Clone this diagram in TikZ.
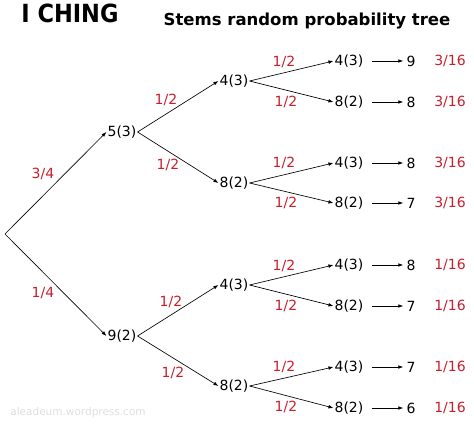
\documentclass[tikz,border=0pt]{standalone}
\usepackage{fontspec}
\setmainfont{DejaVu Sans}
\newfontfamily\chingfont{DejaVu Sans Condensed}
\usetikzlibrary{arrows.meta}
\definecolor{probred}{RGB}{200,30,45}
\definecolor{wmgray}{RGB}{222,222,222}
\begin{document}
\begin{tikzpicture}[x=1pt,y=1pt,
  stem/.style={font=\fontsize{14}{16}\selectfont, inner sep=1pt},
  prob/.style={font=\fontsize{14}{16}\selectfont, text=probred, inner sep=0pt},
  arr/.style={line width=0.65pt, -{Latex[length=5pt,width=3.6pt]}},
  resarr/.style={arr, shorten <=7pt, shorten >=2pt}]
\useasboundingbox (0,0) rectangle (474,-425);
% titles
\node[font=\chingfont\bfseries\fontsize{25}{27}\selectfont] (ching) at (70,-13) {I CHING};
\node[font=\bfseries\fontsize{16.5}{18}\selectfont] (title) at (307,-21) {Stems random probability tree};
\node[font=\fontsize{10.5}{12}\selectfont, text=wmgray] (wm) at (78,-413) {aleadeum.wordpress.com};
% root
\coordinate (r) at (5,-234);
% level 1
\node[stem] (a) at (122,-132) {5(3)};
\node[stem] (b) at (122,-336) {9(2)};
% level 2
\node[stem] (aa) at (234,-81) {4(3)};
\node[stem] (ab) at (234,-183) {8(2)};
\node[stem] (ba) at (234,-285) {4(3)};
\node[stem] (bb) at (234,-386) {8(2)};
% level 3
\node[stem] (aaa) at (349,-61) {4(3)};
\node[stem] (aab) at (349,-102) {8(2)};
\node[stem] (aba) at (349,-163) {4(3)};
\node[stem] (abb) at (349,-203) {8(2)};
\node[stem] (baa) at (349,-265) {4(3)};
\node[stem] (bab) at (349,-306) {8(2)};
\node[stem] (bba) at (349,-367) {4(3)};
\node[stem] (bbb) at (349,-408) {8(2)};
% results
\node[stem] (raaa) at (411,-61) {9};
\node[stem] (raab) at (411,-102) {8};
\node[stem] (raba) at (411,-163) {8};
\node[stem] (rabb) at (411,-203) {7};
\node[stem] (rbaa) at (411,-265) {8};
\node[stem] (rbab) at (411,-306) {7};
\node[stem] (rbba) at (411,-367) {7};
\node[stem] (rbbb) at (411,-408) {6};
% final probabilities
\node[prob] (paaa) at (450,-61) {3/16};
\node[prob] (paab) at (450,-102) {3/16};
\node[prob] (paba) at (450,-163) {3/16};
\node[prob] (pabb) at (450,-203) {3/16};
\node[prob] (pbaa) at (450,-265) {1/16};
\node[prob] (pbab) at (450,-306) {1/16};
\node[prob] (pbba) at (450,-367) {1/16};
\node[prob] (pbbb) at (450,-408) {1/16};
% edges
\draw[arr] (r) -- (a.west);
\draw[arr] (r) -- (b.west);
\foreach \p/\c in {a/aa,a/ab,b/ba,b/bb,aa/aaa,aa/aab,ab/aba,ab/abb,ba/baa,ba/bab,bb/bba,bb/bbb}
  \draw[arr] (\p.east) -- (\c.west);
\foreach \c in {aaa,aab,aba,abb,baa,bab,bba,bbb}
  \draw[resarr] (\c.east) -- (r\c.west);
% edge labels
\node[prob] (l1) at (43,-174) {3/4};
\node[prob] (l2) at (43,-293) {1/4};
\node[prob] (l3) at (166,-100) {1/2};
\node[prob] (l4) at (168,-165) {1/2};
\node[prob] (l5) at (171,-302) {1/2};
\node[prob] (l6) at (173,-373) {1/2};
\node[prob] (l7) at (284,-62) {1/2};
\node[prob] (l8) at (286,-102) {1/2};
\node[prob] (l9) at (284,-163) {1/2};
\node[prob] (l10) at (286,-203) {1/2};
\node[prob] (l11) at (284,-266) {1/2};
\node[prob] (l12) at (286,-306) {1/2};
\node[prob] (l13) at (284,-367) {1/2};
\node[prob] (l14) at (286,-407) {1/2};
\end{tikzpicture}
\end{document}
